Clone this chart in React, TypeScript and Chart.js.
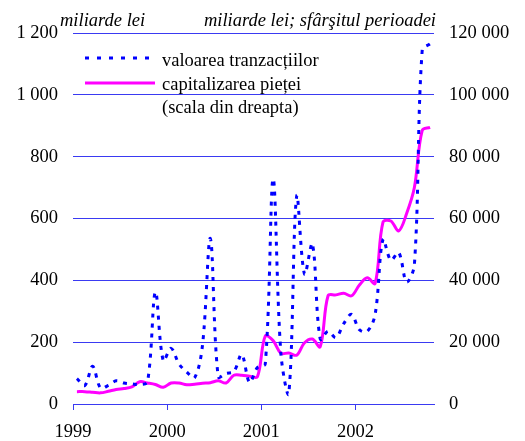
import React, { useEffect, useRef } from "react";
import { Chart, registerables } from "chart.js";

Chart.register(...registerables);

// Monthly data, Jan 1999 – Oct 2002
const transactions = [
  82, 60, 122, 52, 60, 75, 68, 65, 63, 72, 362, 140,
  180, 130, 103, 85, 190, 535, 88, 99, 105, 160, 70, 118,
  130, 728, 160, 35, 672, 420, 518, 210, 235, 215, 260, 290,
  240, 235, 290, 532, 465, 490, 395, 450, 1145, 1165,
];
const capitalization = [
  4000, 4000, 3800, 3600, 4100, 4700, 5000, 5500, 7200, 6800, 6300, 5400,
  6800, 6800, 6200, 6400, 6700, 6900, 7500, 6800, 9300, 9300, 9000, 8800,
  22000, 20500, 16400, 16500, 15800, 19800, 21000, 18500, 35000, 35300, 35800, 35000,
  38500, 40800, 39000, 58800, 59200, 56000, 61500, 70000, 88500, 89500,
];
const yearLabels = ["1999", "2000", "2001", "2002"];
const yearTickMonths = [0, 12, 24, 36];
const leftTicks = [0, 200, 400, 600, 800, 1000, 1200];
const rightTicks = [0, 20000, 40000, 60000, 80000, 100000, 120000];
const legendLabels = ["valoarea tranzacțiilor", "capitalizarea pieței", "(scala din dreapta)"];
const leftTitle = "miliarde lei";
const rightTitle = "miliarde lei; sfârşitul perioadei";

const FONT = "'Liberation Serif', 'Times New Roman', serif";
const FS = 18.5;
const BLUE = "#0000ff";
const MAGENTA = "#ff00ff";
const GRID = "#3a3af2";

const fmt = (n: number) => String(n).replace(/\B(?=(\d{3})+(?!\d))/g, " ");

const overlayPlugin = {
  id: "overlay",
  afterDraw(chart: any) {
    const ctx = chart.ctx;
    const area = chart.chartArea;
    ctx.save();
    ctx.fillStyle = "#000";
    ctx.textBaseline = "alphabetic";
    ctx.font = `italic ${FS}px ${FONT}`;
    ctx.textAlign = "left";
    ctx.fillText(leftTitle, 60, 26);
    ctx.textAlign = "right";
    ctx.fillText(rightTitle, area.right + 2, 26);

    // legend
    const sx0 = 85, sx1 = 155;
    ctx.lineWidth = 3;
    ctx.strokeStyle = BLUE;
    ctx.setLineDash([4, 8]);
    ctx.beginPath();
    ctx.moveTo(sx0, 58);
    ctx.lineTo(sx1, 58);
    ctx.stroke();
    ctx.setLineDash([]);
    ctx.strokeStyle = MAGENTA;
    ctx.beginPath();
    ctx.moveTo(sx0, 83);
    ctx.lineTo(sx1, 83);
    ctx.stroke();
    ctx.font = `${FS}px ${FONT}`;
    ctx.textAlign = "left";
    ctx.fillText(legendLabels[0], 162, 66);
    ctx.fillText(legendLabels[1], 162, 90);
    ctx.fillText(legendLabels[2], 162, 113);
    ctx.restore();
  },
};

export default function App() {
  const ref = useRef<HTMLCanvasElement | null>(null);

  useEffect(() => {
    if (!ref.current) return;
    const chart = new Chart(ref.current, {
      type: "line",
      data: {
        datasets: [
          {
            label: legendLabels[0],
            data: transactions.map((v, i) => ({ x: i + 0.5, y: v })),
            borderColor: BLUE,
            borderWidth: 3,
            borderDash: [4, 6],
            pointRadius: 0,
            tension: 0.35,
            fill: false,
            yAxisID: "y",
          },
          {
            label: legendLabels[1],
            data: capitalization.map((v, i) => ({ x: i + 0.5, y: v })),
            borderColor: MAGENTA,
            borderWidth: 3,
            pointRadius: 0,
            tension: 0.35,
            fill: false,
            yAxisID: "y2",
          },
        ],
      },
      options: {
        responsive: false,
        animation: false,
        layout: { padding: { top: 33, left: 0, right: 0, bottom: 0 } },
        plugins: { legend: { display: false }, tooltip: { enabled: false } },
        scales: {
          x: {
            type: "linear",
            min: 0,
            max: 46,
            afterBuildTicks: (scale: any) => {
              scale.ticks = yearTickMonths.map((v) => ({ value: v }));
            },
            afterFit: (scale: any) => {
              scale.height = 37;
            },
            ticks: {
              autoSkip: false,
              maxRotation: 0,
              padding: 11,
              color: "#000",
              font: { family: FONT, size: FS },
              callback: (v: any) => {
                const k = yearTickMonths.indexOf(Number(v));
                return k >= 0 ? yearLabels[k] : "";
              },
            },
            grid: { drawOnChartArea: false, drawTicks: true, tickLength: 6, color: GRID, lineWidth: 1 },
            border: { display: true, color: GRID, width: 1 },
          },
          y: {
            position: "left",
            min: 0,
            max: 1200,
            afterBuildTicks: (scale: any) => {
              scale.ticks = leftTicks.map((v) => ({ value: v }));
            },
            afterFit: (scale: any) => {
              scale.width = 73;
            },
            ticks: {
              padding: 15,
              color: "#000",
              font: { family: FONT, size: FS },
              callback: (v: any) => fmt(Number(v)),
            },
            grid: { drawTicks: false, color: GRID, lineWidth: 1 },
            border: { display: false },
          },
          y2: {
            position: "right",
            min: 0,
            max: 120000,
            afterBuildTicks: (scale: any) => {
              scale.ticks = rightTicks.map((v) => ({ value: v }));
            },
            afterFit: (scale: any) => {
              scale.width = 91;
            },
            ticks: {
              padding: 15,
              color: "#000",
              font: { family: FONT, size: FS },
              callback: (v: any) => fmt(Number(v)),
            },
            grid: { drawOnChartArea: false, drawTicks: false },
            border: { display: false },
          },
        },
      },
      plugins: [overlayPlugin],
    });
    return () => chart.destroy();
  }, []);

  return (
    <div style={{ position: "fixed", left: 0, top: 0, width: 525, height: 441, background: "#fff" }}>
      <canvas ref={ref} width={525} height={441} style={{ display: "block" }} />
    </div>
  );
}
